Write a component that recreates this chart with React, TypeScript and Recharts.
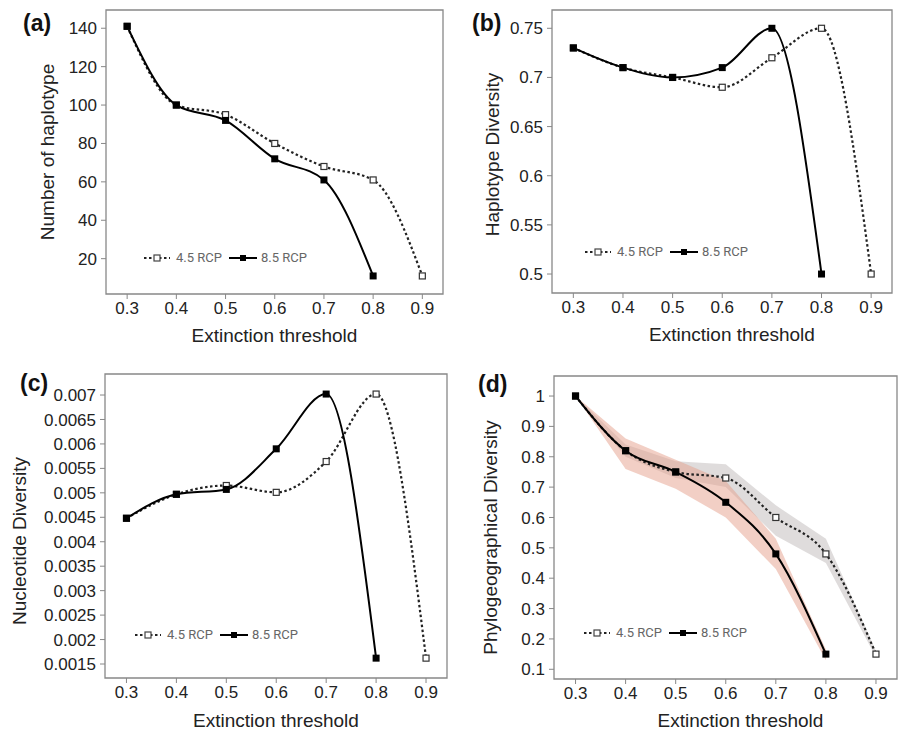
import React from 'react';
import { ComposedChart, Line, Area, XAxis, YAxis, ReferenceArea, Legend } from 'recharts';

// ---------- data ----------
const thresholds = [0.3, 0.4, 0.5, 0.6, 0.7, 0.8, 0.9];
const xTicks = [0.3, 0.4, 0.5, 0.6, 0.7, 0.8, 0.9];
const xDomain = [0.257, 0.942];

const hapNum45 = [141, 100, 95, 80, 68, 61, 11];
const hapNum85 = [141, 100, 92, 72, 61, 11, null];
const hapNumTicks = [20, 40, 60, 80, 100, 120, 140];
const hapNumDomain = [1.6, 149.5];

const hapDiv45 = [0.73, 0.71, 0.7, 0.69, 0.72, 0.75, 0.5];
const hapDiv85 = [0.73, 0.71, 0.7, 0.71, 0.75, 0.5, null];
const hapDivTicks = [0.5, 0.55, 0.6, 0.65, 0.7, 0.75];
const hapDivDomain = [0.4807, 0.7686];

const nucDiv45 = [0.00448, 0.00497, 0.00515, 0.00501, 0.00564, 0.00702, 0.00162];
const nucDiv85 = [0.00448, 0.00497, 0.00507, 0.0059, 0.00702, 0.00162, null];
const nucDivTicks = [0.0015, 0.002, 0.0025, 0.003, 0.0035, 0.004, 0.0045, 0.005, 0.0055, 0.006, 0.0065, 0.007];
const nucDivDomain = [0.001214, 0.00743];

const phyDiv45 = [1.0, 0.82, 0.75, 0.73, 0.6, 0.48, 0.15];
const phyDiv85 = [1.0, 0.82, 0.75, 0.65, 0.48, 0.15, null];
const phyLow45 = [1.0, 0.8, 0.73, 0.7, 0.54, 0.45, 0.14];
const phyHigh45 = [1.0, 0.84, 0.785, 0.775, 0.64, 0.53, 0.16];
const phyLow85 = [1.0, 0.76, 0.695, 0.6, 0.43, 0.13, null];
const phyHigh85 = [1.0, 0.86, 0.79, 0.72, 0.53, 0.165, null];
const phyDivTicks = [0.1, 0.2, 0.3, 0.4, 0.5, 0.6, 0.7, 0.8, 0.9, 1];
const phyDivDomain = [0.068, 1.066];

const seriesNames = ['4.5 RCP', '8.5 RCP'];
const xTitle = 'Extinction threshold';

const FONT = "'Liberation Sans', Arial, Helvetica, sans-serif";

function buildRows(s45: any[], s85: any[], lo45?: any[], hi45?: any[], lo85?: any[], hi85?: any[]) {
  return thresholds.map((x, i) => ({
    x,
    s45: s45[i],
    s85: s85[i],
    band45: lo45 && lo45[i] != null ? [lo45[i], hi45![i]] : null,
    band85: lo85 && lo85[i] != null ? [lo85[i], hi85![i]] : null,
  }));
}

const FilledSquare = (props: any) => {
  const { cx, cy, index } = props;
  if (cx == null || cy == null || isNaN(cx) || isNaN(cy) || props.value == null) return <g key={`f${index}`} />;
  return <rect key={`f${index}`} x={cx - 3.5} y={cy - 3.5} width={7} height={7} fill="#000" />;
};

const OpenSquare = (props: any) => {
  const { cx, cy, index } = props;
  if (cx == null || cy == null || isNaN(cx) || isNaN(cy) || props.value == null) return <g key={`o${index}`} />;
  return (
    <rect key={`o${index}`} x={cx - 3} y={cy - 3} width={6} height={6} fill="#fff" stroke="#333" strokeWidth={1.2} />
  );
};

const LegendContent = () => (
  <div
    style={{
      display: 'flex',
      alignItems: 'center',
      fontFamily: 'Roboto, sans-serif',
      fontSize: 13,
      color: '#666',
      whiteSpace: 'nowrap',
      lineHeight: '16px',
    }}
  >
    <svg width={26} height={10} style={{ display: 'block' }}>
      <line x1={0} y1={5} x2={26} y2={5} stroke="#222" strokeWidth={2} strokeDasharray="2.5 2.5" />
      <rect x={10} y={2} width={6} height={6} fill="#fff" stroke="#444" strokeWidth={1.2} />
    </svg>
    <span style={{ marginLeft: 6 }}>{seriesNames[0]}</span>
    <svg width={28} height={10} style={{ display: 'block', marginLeft: 7 }}>
      <line x1={0} y1={5} x2={28} y2={5} stroke="#000" strokeWidth={2} />
      <rect x={11} y={2} width={6} height={6} fill="#000" />
    </svg>
    <span style={{ marginLeft: 4 }}>{seriesNames[1]}</span>
  </div>
);

type PanelProps = {
  left: number;
  top: number;
  width: number;
  height: number;
  margin: { top: number; right: number; bottom: number; left: number };
  yWidth: number;
  xHeight: number;
  yDomain: number[];
  yTicks: number[];
  rows: any[];
  yTitle: string;
  yTitleX: number;
  yTitleShift: number;
  panelLabel: string;
  labelX: number;
  labelY: number;
  xTitleDx: number;
  xTitleOff: number;
  legendLeft: number;
  legendTop: number;
  bands?: boolean;
};

function Panel(p: PanelProps) {
  const yLabel = (props: any) => {
    const vb = props.viewBox || { x: 0, y: 0, width: 0, height: 0 };
    const cx = vb.x + p.yTitleX;
    const cy = vb.y + vb.height / 2 + p.yTitleShift;
    return (
      <g>
        <text
          x={cx}
          y={cy}
          dy="0.355em"
          transform={`rotate(-90 ${cx} ${cy})`}
          textAnchor="middle"
          fontSize={19}
          fill="#222"
          fontFamily={FONT}
        >
          {p.yTitle}
        </text>
        <text x={p.labelX} y={p.labelY} fontSize={23} fontWeight="bold" fill="#111" fontFamily={FONT}>
          {p.panelLabel}
        </text>
      </g>
    );
  };
  const xLabel = (props: any) => {
    const vb = props.viewBox || { x: 0, y: 0, width: 0, height: 0 };
    return (
      <text
        x={vb.x + vb.width / 2 + p.xTitleDx}
        y={vb.y + vb.height - p.xTitleOff}
        textAnchor="middle"
        fontSize={19}
        fill="#222"
        fontFamily={FONT}
      >
        {xTitle}
      </text>
    );
  };
  return (
    <div style={{ position: 'absolute', left: p.left, top: p.top }}>
      <ComposedChart width={p.width} height={p.height} data={p.rows} margin={p.margin}>
        <XAxis
          type="number"
          dataKey="x"
          domain={xDomain}
          ticks={xTicks}
          allowDataOverflow
          interval={0}
          height={p.xHeight}
          tickSize={5}
          tickMargin={3}
          axisLine={false}
          tickLine={{ stroke: '#888' }}
          tick={{ fontSize: 17, fill: '#222', fontFamily: FONT }}
          label={xLabel}
        />
        <YAxis
          type="number"
          domain={p.yDomain}
          ticks={p.yTicks}
          allowDataOverflow
          interval={0}
          width={p.yWidth}
          tickSize={5}
          tickMargin={4}
          axisLine={false}
          tickLine={{ stroke: '#888' }}
          tick={{ fontSize: 17, fill: '#222', fontFamily: FONT }}
          label={yLabel}
        />
        {p.bands && (
          <Area
            type="linear"
            dataKey="band45"
            stroke="none"
            fill="#c4bfbf"
            fillOpacity={0.55}
            isAnimationActive={false}
            activeDot={false}
            dot={false}
          />
        )}
        {p.bands && (
          <Area
            type="linear"
            dataKey="band85"
            stroke="none"
            fill="#e5a08c"
            fillOpacity={0.5}
            isAnimationActive={false}
            activeDot={false}
            dot={false}
          />
        )}
        <Line
          type="monotone"
          dataKey="s45"
          stroke="#222"
          strokeWidth={2.2}
          strokeDasharray="2.5 2.5"
          dot={OpenSquare}
          activeDot={false}
          isAnimationActive={false}
        />
        <Line
          type="monotone"
          dataKey="s85"
          stroke="#000"
          strokeWidth={2}
          dot={FilledSquare}
          activeDot={false}
          isAnimationActive={false}
        />
        <ReferenceArea
          x1={xDomain[0]}
          x2={xDomain[1]}
          y1={p.yDomain[0]}
          y2={p.yDomain[1]}
          ifOverflow="visible"
          fill="none"
          fillOpacity={0}
          stroke="#888"
          strokeWidth={1.3}
        />
        <Legend
          layout="horizontal"
          verticalAlign="middle"
          align="center"
          content={LegendContent}
          wrapperStyle={{ left: p.legendLeft, top: p.legendTop, width: 'auto', margin: 0 }}
        />
      </ComposedChart>
    </div>
  );
}

export default function App() {
  return (
    <div style={{ position: 'absolute', left: 0, top: 0, width: 898, height: 731, background: '#fff', overflow: 'hidden' }}>
      <Panel
        left={0}
        top={0}
        width={450}
        height={360}
        margin={{ top: 10, right: 7, bottom: 0, left: 0 }}
        yWidth={106}
        xHeight={66}
        yDomain={hapNumDomain}
        yTicks={hapNumTicks}
        rows={buildRows(hapNum45, hapNum85)}
        yTitle="Number of haplotype"
        yTitleX={47}
        yTitleShift={0}
        panelLabel="(a)"
        labelX={23}
        labelY={31}
        xTitleDx={0}
        xTitleOff={18}
        legendLeft={144}
        legendTop={250}
      />
      <Panel
        left={450}
        top={0}
        width={448}
        height={360}
        margin={{ top: 10, right: 6, bottom: 0, left: 0 }}
        yWidth={102}
        xHeight={67}
        yDomain={hapDivDomain}
        yTicks={hapDivTicks}
        rows={buildRows(hapDiv45, hapDiv85)}
        yTitle="Haplotype Diversity"
        yTitleX={42}
        yTitleShift={3}
        panelLabel="(b)"
        labelX={22}
        labelY={31}
        xTitleDx={10}
        xTitleOff={19}
        legendLeft={135}
        legendTop={244}
      />
      <Panel
        left={0}
        top={360}
        width={450}
        height={371}
        margin={{ top: 14, right: 3, bottom: 0, left: 0 }}
        yWidth={105}
        xHeight={53}
        yDomain={nucDivDomain}
        yTicks={nucDivTicks}
        rows={buildRows(nucDiv45, nucDiv85)}
        yTitle="Nucleotide Diversity"
        yTitleX={19}
        yTitleShift={15}
        panelLabel="(c)"
        labelX={20}
        labelY={31}
        xTitleDx={0}
        xTitleOff={4}
        legendLeft={135}
        legendTop={267}
      />
      <Panel
        left={450}
        top={360}
        width={448}
        height={371}
        margin={{ top: 16, right: 1, bottom: 0, left: 0 }}
        yWidth={104}
        xHeight={52}
        yDomain={phyDivDomain}
        yTicks={phyDivTicks}
        rows={buildRows(phyDiv45, phyDiv85, phyLow45, phyHigh45, phyLow85, phyHigh85)}
        yTitle="Phylogeographical Diversity"
        yTitleX={40}
        yTitleShift={10}
        panelLabel="(d)"
        labelX={28}
        labelY={32}
        xTitleDx={15}
        xTitleOff={4}
        legendLeft={134}
        legendTop={265}
        bands
      />
    </div>
  );
}
